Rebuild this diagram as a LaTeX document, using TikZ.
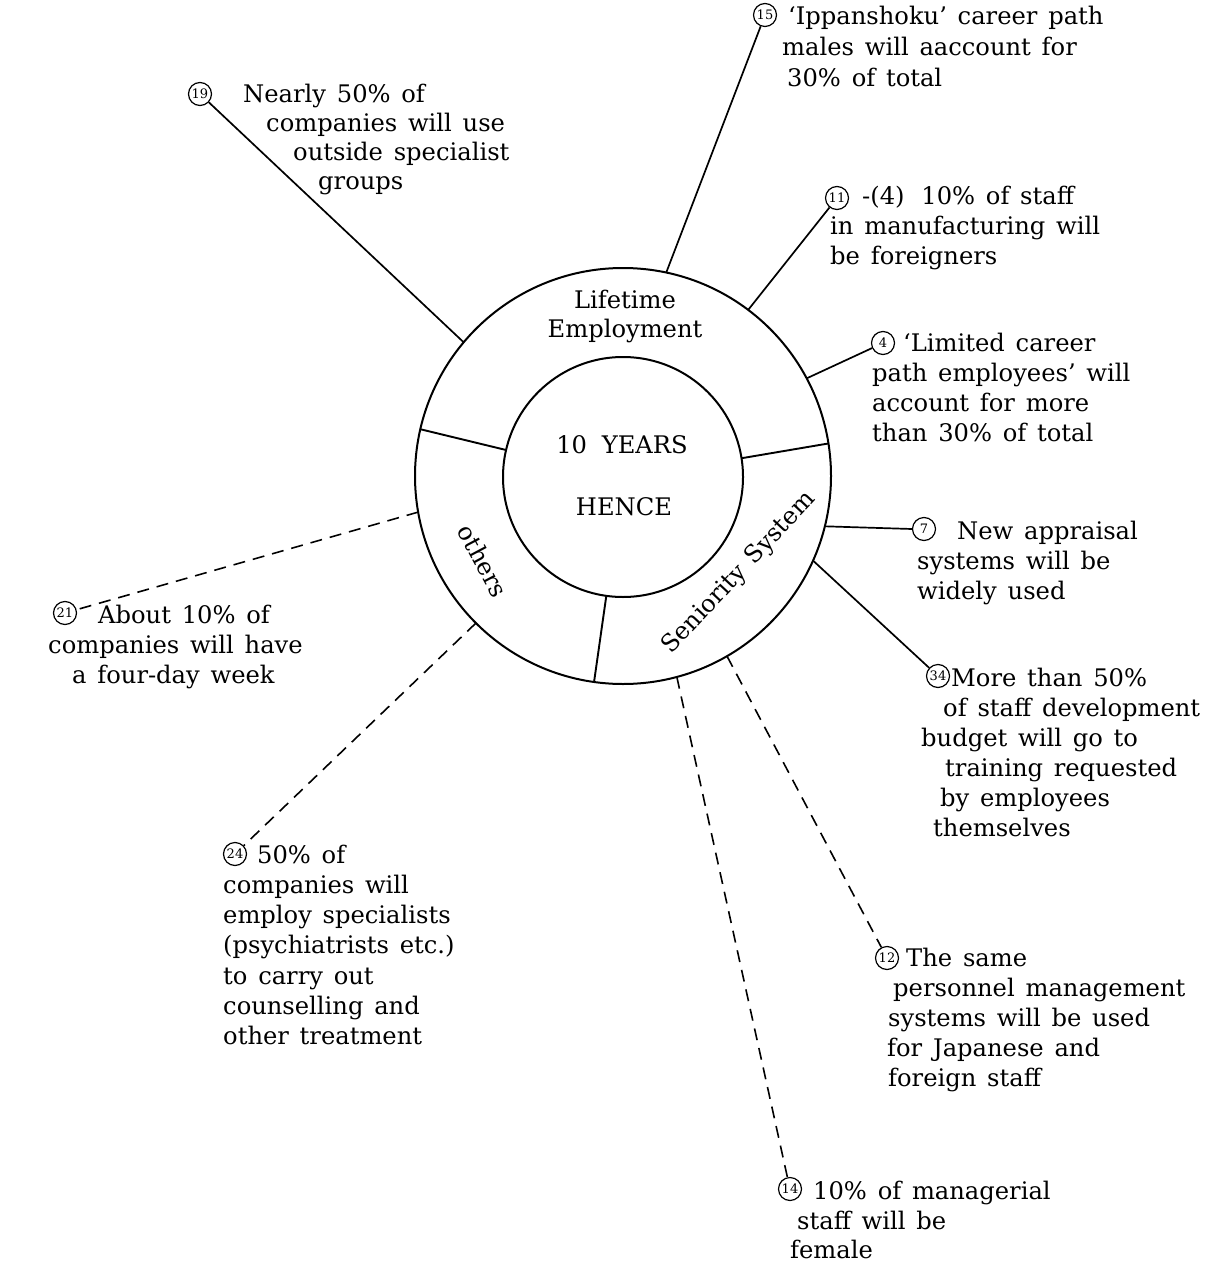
\documentclass[tikz,border=0pt]{standalone}
\usepackage{fontspec}
\setmainfont{DejaVu Serif}[WordSpace=1.4]
\newcommand\tf{\fontsize{24.2}{30}\selectfont}
\newcommand\numf{\fontsize{13}{13}\selectfont}
\begin{document}
\begin{tikzpicture}[x=1pt,y=-1pt,
  ring/.style={circle,draw,line width=2pt,inner sep=0pt,outer sep=0pt},
  ln/.style={anchor=base west,inner sep=0pt,font=\tf},
  lab/.style={inner sep=0pt,font=\tf},
  numc/.style={circle,draw,line width=1.2pt,inner sep=0pt,minimum size=23pt,font=\numf},
  conn/.style={line width=1.7pt},
  dconn/.style={line width=1.6pt,dash pattern=on 12pt off 8pt},
  divl/.style={line width=1.9pt}]
\useasboundingbox (0,0) rectangle (1209,1265);

% rings
\node[ring,minimum size=416pt] (outer) at (623,476) {};
\node[ring,minimum size=240pt] (inner) at (623,477) {};
\draw[divl] (inner.167) -- (outer.167);
\draw[divl] (inner.9.5) -- (outer.9.5);
\draw[divl] (inner.262.6) -- (outer.262.6);

% ring labels
\node[lab,anchor=base] (lt1) at (625,308) {Lifetime};
\node[lab,anchor=base] (lt2) at (625,337) {Employment};
\node[lab,anchor=base] (yr1) at (622,453) {10\hspace{4pt} YEARS};
\node[lab,anchor=base] (yr2) at (624,515) {HENCE};
\node[lab,rotate=-62] (oth) at (483,561) {others};
\node[lab,rotate=47] (sen) at (739,573) {Seniority System};

% circled numbers
\node[numc] (n15) at (765,15) {15};
\node[numc] (n19) at (200,94) {19};
\node[numc] (n11) at (837,198) {11};
\node[numc] (n4) at (883,343) {4};
\node[numc] (n7) at (924,529) {7};
\node[numc] (n34) at (938,676) {34};
\node[numc] (n12) at (887,958) {12};
\node[numc] (n14) at (790,1189) {14};
\node[numc] (n24) at (235,854) {24};
\node[numc] (n21) at (65,613) {21};

% connectors
\draw[conn] (outer.78.5) -- (n15);
\draw[conn] (outer.140.4) -- (n19);
\draw[conn] (outer.53.2) -- (n11);
\draw[conn] (outer.28.6) -- (n4);
\draw[conn] (outer.346) -- (n7.west);
\draw[conn] (outer.336.5) -- (n34);
\draw[dconn] (outer.300.6) -- (n12);
\draw[dconn] (outer.285.9) -- (n14);
\draw[dconn] (outer.225.2) -- (n24);
\draw[dconn] (outer.190.5) -- (n21);

% texts
\node[ln] (t15a) at (788,25) {‘Ippanshoku’ career path};
\node[ln] (t15b) at (782,56) {males will aaccount for};
\node[ln] (t15c) at (787,87) {30\% of total};

\node[ln] (t19a) at (243,103) {Nearly 50\% of};
\node[ln] (t19b) at (266,132) {companies will use};
\node[ln] (t19c) at (293,161) {outside specialist};
\node[ln] (t19d) at (318,190) {groups};

\node[ln] (t11a) at (862,205) {-(4)\hspace{6pt} 10\% of staff};
\node[ln] (t11b) at (830,235) {in manufacturing will};
\node[ln] (t11c) at (830,265) {be foreigners};

\node[ln] (t4a) at (903,351) {‘Limited career};
\node[ln] (t4b) at (872,381) {path employees’ will};
\node[ln] (t4c) at (872,411) {account for more};
\node[ln] (t4d) at (872,441) {than 30\% of total};

\node[ln] (t7a) at (957,539) {New appraisal};
\node[ln] (t7b) at (917,569) {systems will be};
\node[ln] (t7c) at (917,599) {widely used};

\node[ln] (t34a) at (951,686) {More than 50\%};
\node[ln] (t34b) at (943,716) {of staff development};
\node[ln] (t34c) at (921,746) {budget will go to};
\node[ln] (t34d) at (945,776) {training requested};
\node[ln] (t34e) at (940,806) {by employees};
\node[ln] (t34f) at (933,836) {themselves};

\node[ln] (t12a) at (906,966) {The same};
\node[ln] (t12b) at (893,996) {personnel management};
\node[ln] (t12c) at (888,1026) {systems will be used};
\node[ln] (t12d) at (887,1056) {for Japanese and};
\node[ln] (t12e) at (888,1086) {foreign staff};

\node[ln] (t14a) at (813,1199) {10\% of managerial};
\node[ln] (t14b) at (797,1229) {staff will be};
\node[ln] (t14c) at (790,1258) {female};

\node[ln] (t24a) at (257,863) {50\% of};
\node[ln] (t24b) at (223,893) {companies will};
\node[ln] (t24c) at (223,923) {employ specialists};
\node[ln] (t24d) at (223,953) {(psychiatrists etc.)};
\node[ln] (t24e) at (223,984) {to carry out};
\node[ln] (t24f) at (223,1014) {counselling and};
\node[ln] (t24g) at (223,1044) {other treatment};

\node[ln] (t21a) at (98,623) {About 10\% of};
\node[ln] (t21b) at (48,653) {companies will have};
\node[ln] (t21c) at (72,683) {a four-day week};
\end{tikzpicture}
\end{document}
